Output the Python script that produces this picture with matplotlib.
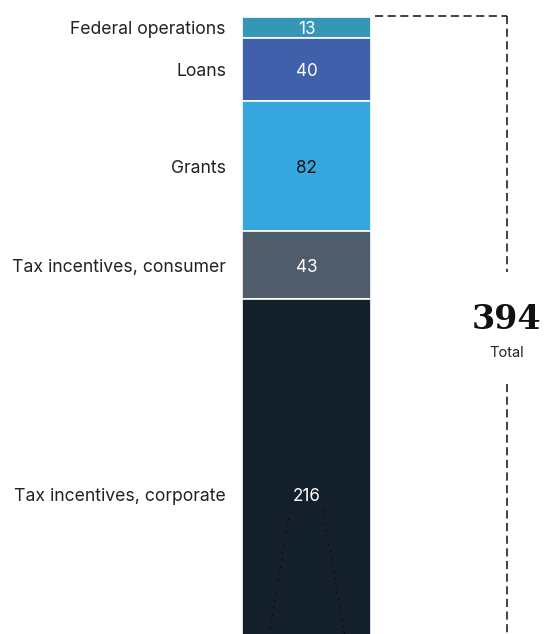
import numpy as np
import matplotlib.pyplot as plt

categories = ['Federal operations', 'Loans', 'Grants',
              'Tax incentives, consumer', 'Tax incentives, corporate']
values = [13, 40, 82, 43, 216]
colors = ['#3696b5', '#4160ac', '#36a6df', '#4f5d6a', '#131f2b']
text_colors = ['white', 'white', '#111111', 'white', 'white']
total = sum(values)

fig = plt.figure(figsize=(5.53, 6.34), dpi=100)
# x runs in pixels across the figure, y in value units (top = 0)
ax = fig.add_axes([0, 0, 1, 1])
ax.set_xlim(0, 553)
ax.set_ylim(389.5, -10.7)
ax.axis('off')

bar_x, bar_w = 306.5, 129
bottoms = np.concatenate([[0], np.cumsum(values)[:-1]])
ax.bar(bar_x, values, width=bar_w, bottom=bottoms, color=colors,
       edgecolor='white', linewidth=1.2, align='center')

for cat, v, b, tc in zip(categories, values, bottoms, text_colors):
    mid = b + v / 2 + 1.5
    if v > 150:
        mid = b + 125  # label sits high in the tall segment
    ax.text(226, mid, cat, ha='right', va='center', fontsize=12.7,
            family='Inter', color='#222222')
    ax.text(bar_x, mid, str(v), ha='center', va='center', fontsize=12.3,
            family='Inter', color=tc)

# faint dotted guides inside the corporate segment
b_last = bottoms[-1]
ax.plot([290, 268], [b_last + 134, 395], ls=(0, (1, 4)), color='#05090d', lw=1)
ax.plot([323, 346], [b_last + 133, 395], ls=(0, (1, 4)), color='#05090d', lw=1)

# bracket for the total
dash = dict(color='#333333', lw=1.3, ls=(0, (4.5, 2.5)))
ax.plot([375, 507], [-0.6, -0.6], **dash)
ax.plot([507, 507], [-0.6, total / 2 - 36], **dash)
ax.plot([507, 507], [total / 2 + 35, 400], **dash)
ax.text(507, total / 2 - 6, str(total), ha='center', va='center',
        fontsize=24, family='DejaVu Serif', weight='bold', color='#111111')
ax.text(507, total / 2 + 15, 'Total', ha='center', va='center',
        fontsize=10.5, family='Inter', color='#222222')

fig.savefig('out.png', dpi=100)
